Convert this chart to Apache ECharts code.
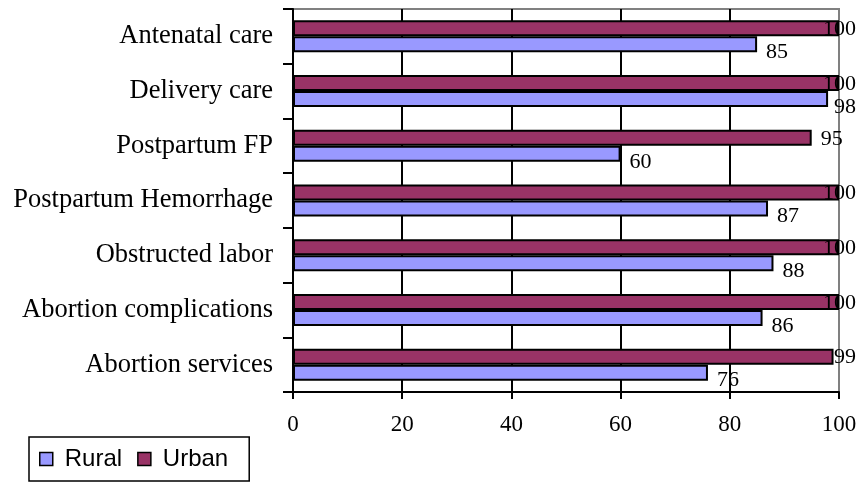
<!DOCTYPE html>
<html>
<head>
<meta charset="utf-8">
<script src="https://cdn.jsdelivr.net/npm/echarts@6/dist/echarts.min.js"></script>
<style>
html,body{margin:0;padding:0;background:#fff;}
#chart{width:860px;height:483px;}
</style>
</head>
<body>
<div id="chart"></div>
<script>
var categories = ['Antenatal care','Delivery care','Postpartum FP','Postpartum Hemorrhage','Obstructed labor','Abortion complications','Abortion services'];
var urbanValues = [100, 100, 95, 100, 100, 100, 99];
var ruralValues = [85, 98, 60, 87, 88, 86, 76];
var xTicks = [0, 20, 40, 60, 80, 100];

var RIGHT_LIMIT = 856;
var LABEL_DY = [1, 8];   // vertical label shift per series (Urban, Rural)
function placeLabel(params) {
  var r = params.labelRect;
  var x = r.x;
  if (r.x + r.width > RIGHT_LIMIT) { x = RIGHT_LIMIT - r.width; }
  return { x: x, y: r.y + LABEL_DY[params.seriesIndex], align: 'left', verticalAlign: 'top' };
}

var chart = echarts.init(document.getElementById('chart'), null, {renderer: 'canvas'});
var serif = '"Liberation Serif", "Times New Roman", serif';
var option = {
  animation: false,
  backgroundColor: '#ffffff',
  grid: {
    left: 293, right: 21, top: 9, bottom: 91,
    show: true, borderColor: '#808080', borderWidth: 2, backgroundColor: 'transparent'
  },
  legend: {
    left: 29, top: 437,
    orient: 'horizontal',
    data: ['Rural', 'Urban'],
    icon: 'rect',
    itemWidth: 13, itemHeight: 13, itemGap: 15,
    padding: [10, 21, 10, 10],
    borderColor: '#000', borderWidth: 1.5,
    itemStyle: { borderColor: '#000', borderWidth: 1.5 },
    textStyle: { fontFamily: '"Liberation Sans", Arial, sans-serif', fontSize: 24, color: '#000', padding: [0, 0, 0, 7] }
  },
  xAxis: {
    type: 'value', min: 0, max: 100, interval: 20,
    axisLine: { show: true, lineStyle: { color: '#000', width: 2 } },
    axisTick: { show: true, length: 7, inside: false, lineStyle: { color: '#000', width: 2 } },
    splitLine: { show: true, lineStyle: { color: ['#000','#000','#000','#000','#000','#808080'], width: 2 } },
    axisLabel: {
      margin: 21, fontFamily: serif, fontSize: 23, color: '#000',
      formatter: function (v) { return xTicks.indexOf(v) >= 0 ? String(v) : ''; }
    }
  },
  yAxis: {
    type: 'category', data: categories, inverse: true,
    axisLine: { show: true, lineStyle: { color: '#000', width: 2 } },
    axisTick: { show: true, length: 10, inside: false, alignWithLabel: false, lineStyle: { color: '#000', width: 2 } },
    axisLabel: { margin: 20, fontFamily: serif, fontSize: 26.5, color: '#000' },
    splitLine: { show: false }
  },
  series: [
    {
      name: 'Urban', type: 'bar', data: urbanValues,
      barGap: '0%', barCategoryGap: '41.5%',
      itemStyle: { color: '#993366', borderColor: '#000', borderWidth: 2 },
      label: { show: true, position: 'right', distance: 9, fontFamily: serif, fontSize: 22, color: '#000' },
      labelLayout: placeLabel
    },
    {
      name: 'Rural', type: 'bar', data: ruralValues,
      barGap: '0%', barCategoryGap: '41.5%',
      itemStyle: { color: '#9999FF', borderColor: '#000', borderWidth: 2 },
      label: { show: true, position: 'right', distance: 9, fontFamily: serif, fontSize: 22, color: '#000' },
      labelLayout: placeLabel
    }
  ]
};
chart.setOption(option);
</script>
</body>
</html>
